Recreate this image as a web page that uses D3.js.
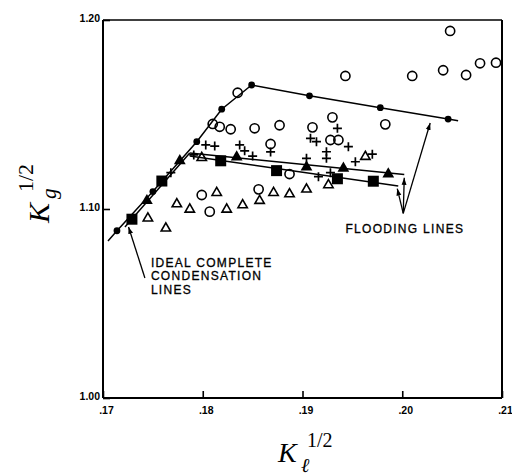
<!DOCTYPE html>
<html><head><meta charset="utf-8">
<script src="https://cdn.jsdelivr.net/npm/d3@7"></script>
<style>body{margin:0;background:#fff}svg{display:block}</style>
</head><body><svg id="c" width="512" height="476"></svg>
<script>
// ---- data ----
const xTicks = [0.17, 0.18, 0.19, 0.20, 0.21];
const xTickLabels = [".17", ".18", ".19", ".20", ".21"];
const yTicks = [1.00, 1.10, 1.20];
const yTickLabels = ["1.00", "1.10", "1.20"];

const openCircles = [
  [0.2048,1.1942],[0.2078,1.1771],[0.2094,1.1774],[0.2041,1.1734],[0.2064,1.1709],
  [0.2010,1.1704],[0.1943,1.1704],[0.1835,1.1615],[0.1810,1.1450],[0.1817,1.1435],
  [0.1828,1.1422],[0.1852,1.1427],[0.1877,1.1443],[0.1910,1.1432],[0.1930,1.1485],
  [0.1983,1.1448],[0.1928,1.1365],[0.1936,1.1365],[0.1868,1.1344],[0.1799,1.1074],
  [0.1807,1.0986],[0.1856,1.1104],[0.1887,1.1185]
];
const crosses = [
  [0.1803,1.1339],[0.1812,1.1333],[0.1837,1.1339],[0.1842,1.1308],[0.1850,1.1280],
  [0.1868,1.1302],[0.1908,1.1374],[0.1914,1.1356],[0.1924,1.1303],[0.1924,1.1268],
  [0.1946,1.1330],[0.1953,1.1250],[0.1904,1.1268],[0.1916,1.1171],[0.1928,1.1192],
  [0.1970,1.1290],[0.1768,1.1192],[0.1791,1.1286],[0.1935,1.1427]
];
const openTriangles = [
  [0.1745,1.0951],[0.1763,1.0898],[0.1774,1.1026],[0.1787,1.0998],[0.1814,1.1086],
  [0.1824,1.0998],[0.1840,1.1021],[0.1857,1.1044],[0.1871,1.1086],[0.1887,1.1079],
  [0.1904,1.1104],[0.1926,1.1127],[0.1963,1.1277],[0.1799,1.1271]
];
const filledTriangles = [
  [0.1744,1.1044],[0.1777,1.1255],[0.1834,1.1275],[0.1904,1.1222],[0.1941,1.1215],[0.1986,1.1185]
];
const squares = [
  [0.1729,1.0946],[0.1759,1.1148],[0.1818,1.1255],[0.1874,1.1203],[0.1935,1.1160],[0.1971,1.1147]
];
const dots = [
  [0.1714,1.0885],[0.1750,1.1092],[0.1794,1.1356],[0.1819,1.1528],[0.1849,1.1656],
  [0.1907,1.1599],[0.1978,1.1536],[0.2046,1.1476]
];
// lines
const idealLineA = [[0.1705,1.0831],[0.1714,1.0885],[0.1750,1.1092],[0.1794,1.1356],[0.1819,1.1528],[0.1849,1.1656]];
const idealLineB = [[0.1722,1.0905],[0.1787,1.1296]];
const floodLineA = [[0.1849,1.1656],[0.1907,1.1599],[0.1978,1.1536],[0.2046,1.1476],[0.2056,1.1467]];
const floodLineB = [[0.1787,1.1296],[0.2002,1.1183]];
const floodLineC = [[0.1787,1.1280],[0.1996,1.1122]];
// arrows [from, to]
const arrows = [
  [[0.2001,1.0977],[0.2028,1.1455]],
  [[0.2001,1.0977],[0.2002,1.1165]],
  [[0.2001,1.0977],[0.1995,1.1108]],
  [[0.1742,1.0635],[0.17256,1.0905]]
];
const annotations = [
  {text:"FLOODING LINES", x:0.1943, y:1.0873},
  {text:"IDEAL COMPLETE", x:0.1748, y:1.0693},
  {text:"CONDENSATION", x:0.1748, y:1.0622},
  {text:"LINES", x:0.1748, y:1.0550}
];

// ---- chart ----
const svg = d3.select("#c");
const x = d3.scaleLinear().domain([0.17, 0.21]).range([103, 502]);
const y = d3.scaleLinear().domain([1.00, 1.20]).range([398, 20]);

svg.append("rect").attr("width",512).attr("height",476).attr("fill","#fff");

const defs = svg.append("defs");
defs.append("marker").attr("id","ah").attr("viewBox","0 0 10 10").attr("refX",10).attr("refY",5)
  .attr("markerWidth",7).attr("markerHeight",7).attr("markerUnits","userSpaceOnUse").attr("orient","auto")
  .append("path").attr("d","M0,1.5L10,5L0,8.5Z").attr("fill","#000");

// frame
const fr = svg.append("g").attr("fill","none").attr("stroke","#000");
fr.append("line").attr("x1",x(0.17)).attr("x2",x(0.17)).attr("y1",y(1.2)).attr("y2",y(1.0)).attr("stroke-width",2);
fr.append("line").attr("x1",x(0.17)).attr("x2",x(0.21)).attr("y1",y(1.0)).attr("y2",y(1.0)).attr("stroke-width",2);
fr.append("line").attr("x1",x(0.17)).attr("x2",x(0.21)).attr("y1",y(1.2)).attr("y2",y(1.2)).attr("stroke-width",1.5);
fr.append("line").attr("x1",x(0.21)).attr("x2",x(0.21)).attr("y1",y(1.2)).attr("y2",y(1.0)).attr("stroke-width",2);

const xAxis = d3.axisBottom(x).tickValues(xTicks).tickSize(-7).tickPadding(9)
  .tickFormat((d,i)=>xTickLabels[i]);
const gx = svg.append("g").attr("transform",`translate(0,${y(1.0)})`).call(xAxis);
const yAxis = d3.axisLeft(y).tickValues(yTicks).tickSize(-7).tickPadding(3)
  .tickFormat((d,i)=>yTickLabels[i]);
const gy = svg.append("g").attr("transform",`translate(${x(0.17)},0)`).call(yAxis);
[gx,gy].forEach(g=>{
  g.select(".domain").remove();
  g.selectAll(".tick line").attr("stroke","#000").attr("stroke-width",1.6);
  g.selectAll(".tick text").attr("font-family","Liberation Sans, Arial, sans-serif")
    .attr("font-weight","bold").attr("font-size",10.5).attr("fill","#000");
});
gx.selectAll(".tick text").attr("dx",3);
gy.selectAll(".tick text").attr("dy","0.1em");

const line = d3.line().x(d=>x(d[0])).y(d=>y(d[1]));
const lg = svg.append("g").attr("fill","none").attr("stroke","#000").attr("stroke-width",1.5);
[idealLineA, idealLineB, floodLineA, floodLineB, floodLineC].forEach(l=>lg.append("path").attr("d",line(l)));
arrows.forEach(a=>lg.append("path").attr("d",line(a)).attr("stroke-width",1.3).attr("marker-end","url(#ah)"));

// markers
const mg = svg.append("g");
mg.selectAll(".oc").data(openCircles).join("circle").attr("cx",d=>x(d[0])).attr("cy",d=>y(d[1]))
  .attr("r",4.6).attr("fill","none").attr("stroke","#000").attr("stroke-width",1.6);
mg.selectAll(".ot").data(openTriangles).join("path")
  .attr("d",d3.symbol(d3.symbolTriangle,38)).attr("transform",d=>`translate(${x(d[0])},${y(d[1])})`)
  .attr("fill","none").attr("stroke","#000").attr("stroke-width",1.6);
mg.selectAll(".cr").data(crosses).join("path")
  .attr("d",d=>{const p=d3.path(),cx=x(d[0]),cy=y(d[1]);p.moveTo(cx-4.5,cy);p.lineTo(cx+4.5,cy);p.moveTo(cx,cy-4.5);p.lineTo(cx,cy+4.5);return p.toString();})
  .attr("stroke","#000").attr("stroke-width",1.7).attr("fill","none");
mg.selectAll(".sq").data(squares).join("path")
  .attr("d",d3.symbol(d3.symbolSquare,121)).attr("transform",d=>`translate(${x(d[0])},${y(d[1])})`).attr("fill","#000");
mg.selectAll(".ft").data(filledTriangles).join("path")
  .attr("d",d3.symbol(d3.symbolTriangle,60)).attr("transform",d=>`translate(${x(d[0])},${y(d[1])})`).attr("fill","#000");
mg.selectAll(".dt").data(dots).join("circle").attr("cx",d=>x(d[0])).attr("cy",d=>y(d[1]))
  .attr("r",3.4).attr("fill","#000");

// annotations
svg.selectAll(".ann").data(annotations).join("text").attr("x",d=>x(d.x)).attr("y",d=>y(d.y))
  .attr("font-family","Liberation Sans, Arial, sans-serif").attr("font-size",12)
  .attr("letter-spacing",1.3).attr("fill","#000").attr("stroke","#000").attr("stroke-width",0.3)
  .text(d=>d.text);

// axis titles
const serif = "Liberation Serif, DejaVu Serif, serif";
const xt = svg.append("g").attr("transform","translate(278,462)").attr("font-family",serif).attr("fill","#000");
xt.append("text").attr("font-style","italic").attr("font-size",28).text("K");
xt.append("text").attr("x",29).attr("y",-15).attr("font-size",20).text("1/2");
xt.append("text").attr("x",23).attr("y",10).attr("font-style","italic").attr("font-size",20).text("ℓ");

const yt = svg.append("g").attr("transform","translate(49,223) rotate(-90)").attr("font-family",serif).attr("fill","#000");
yt.append("text").attr("font-style","italic").attr("font-size",30).text("K");
yt.append("text").attr("x",31).attr("y",-16).attr("font-size",22).text("1/2");
yt.append("text").attr("x",24).attr("y",7).attr("font-style","italic").attr("font-size",21).text("g");
</script></body></html>
